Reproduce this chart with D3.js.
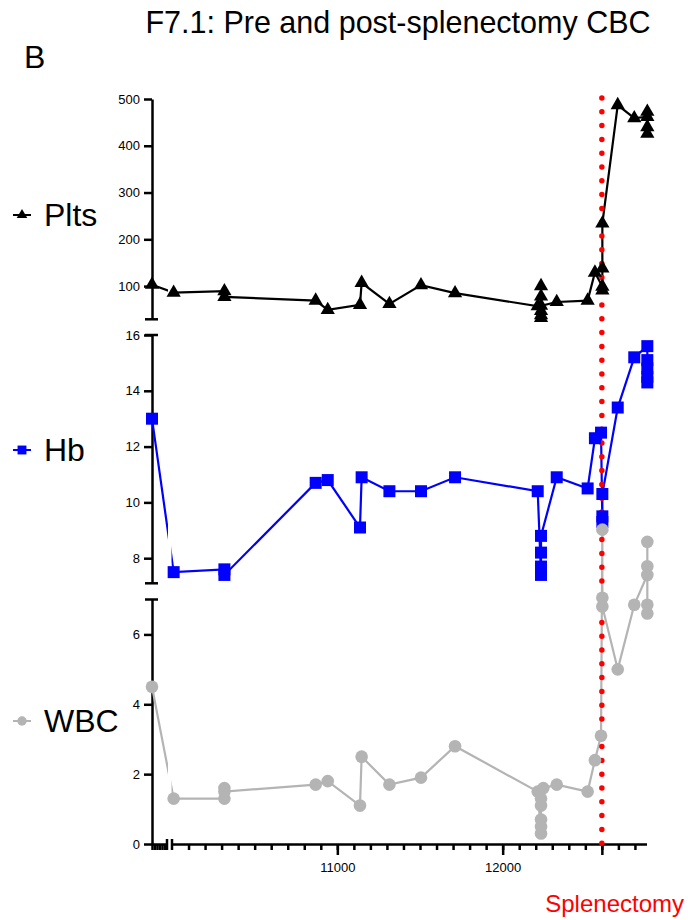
<!DOCTYPE html>
<html>
<head>
<meta charset="utf-8">
<script src="https://cdn.jsdelivr.net/npm/d3@7"></script>
<style>
body { margin: 0; background: #fff; }
text { font-family: "Liberation Sans", Arial, Helvetica, sans-serif; }
.axis path, .axis line { stroke: #000; stroke-width: 2.5; }
.axis text { font-size: 13px; fill: #000; }
</style>
</head>
<body>
<svg id="chart" width="688" height="920"></svg>
<script>
// day of sample and value, same day repeated when several samples were taken
var pltsDay = [0, 10010, 10317, 10317, 10869, 10942, 11137, 11147, 11315, 11506, 11712, 12212,
    12232, 12232, 12232, 12232, 12232, 12232, 12327, 12514, 12558, 12603, 12603, 12603, 12603,
    12696, 12796, 12875, 12875, 12875, 12875]
var pltsVal = [103, 86, 89, 77, 69, 49, 60, 107, 62, 102, 85, 57,
    32, 38, 47, 100, 78, 58, 66, 69, 129, 99, 91, 138, 234,
    487, 459, 462, 473, 440, 426]

var hbDay = [0, 10010, 10317, 10317, 10869, 10942, 11137, 11147, 11315, 11506, 11712, 12212,
    12232, 12232, 12232, 12232, 12327, 12514, 12558, 12595, 12603, 12603, 12603,
    12696, 12796, 12875, 12875, 12875, 12875, 12875]
var hbVal = [13.0, 7.5, 7.6, 7.4, 10.7, 10.8, 9.1, 10.9, 10.4, 10.4, 10.9, 10.4,
    7.4, 7.7, 8.2, 8.8, 10.9, 10.5, 12.3, 12.5, 9.3, 9.5, 10.3,
    13.4, 15.2, 15.6, 15.1, 14.8, 14.5, 14.3]

var wbcDay = [0, 10010, 10317, 10317, 10317, 10869, 10942, 11137, 11147, 11315, 11506, 11712, 12212,
    12232, 12232, 12232, 12232, 12232, 12246, 12327, 12514, 12558, 12595, 12603, 12603, 12603,
    12696, 12796, 12875, 12875, 12875, 12875, 12875]
var wbcVal = [4.5, 1.3, 1.3, 1.6, 1.5, 1.7, 1.8, 1.1, 2.5, 1.7, 1.9, 2.8, 1.5,
    0.3, 0.5, 0.7, 1.1, 1.3, 1.6, 1.7, 1.5, 2.4, 3.1, 9.0, 7.05, 6.8,
    5.0, 6.85, 7.7, 7.95, 8.65, 6.85, 6.6]

var splenectomyDay = 12600
var xEarlyTicks = [0, 100, 200, 300, 400, 500]
var xMinorTicks = d3.range(10100, 12900, 100)
var xMajorTicks = [11000, 12000]
var pltsTicks = [100, 200, 300, 400, 500]
var hbTicks = [8, 10, 12, 14, 16]
var wbcTicks = [0, 2, 4, 6]

var svg = d3.select('#chart')

// x axis has a break between the first sample and day 10000
var x = d3.scaleLinear().domain([0, 600, 10000, 12870]).range([152, 167, 172, 646.5])
var xa = d3.scaleLinear().domain([0, 600]).range([152, 167])
var xb = d3.scaleLinear().domain([10000, 12870]).range([172, 646.5])

var yP = d3.scaleLinear().domain([29, 500]).range([319.3, 99])
var yH = d3.scaleLinear().domain([7.1, 16]).range([583.3, 335])
var yW = d3.scaleLinear().domain([0, 7]).range([844, 599.5])
var xAxisY = 844

function pairs(days, vals) {
    return days.map(function(d, i) { return {day: d, v: vals[i]}; })
}

var series = [
    {name: 'Plts', data: pairs(pltsDay, pltsVal), y: yP, color: '#000', symbol: d3.symbolTriangle, size: 88, legendY: 215},
    {name: 'Hb', data: pairs(hbDay, hbVal), y: yH, color: '#0000ff', symbol: d3.symbolSquare, size: 144, legendY: 450},
    {name: 'WBC', data: pairs(wbcDay, wbcVal), y: yW, color: '#b4b4b4', symbol: d3.symbolCircle, size: 125, legendY: 721}
]

// title and panel letter
svg.append('text').attr('x', 398).attr('y', 33).attr('text-anchor', 'middle')
    .style('font-size', '30.5px').text('F7.1: Pre and post-splenectomy CBC')
svg.append('text').attr('x', 24).attr('y', 68).style('font-size', '32px').text('B')

// y axes
function yAxis(scale, ticks) {
    var g = svg.append('g').attr('class', 'axis').attr('transform', 'translate(152,0)')
        .call(d3.axisLeft(scale).tickValues(ticks).tickSize(8).tickSizeOuter(0).tickPadding(4)
            .tickFormat(d3.format('d')))
    return g
}
yAxis(yP, pltsTicks)
yAxis(yH, hbTicks)
yAxis(yW, wbcTicks)

// end caps on the axis pieces
var caps = [yP(29), yH(16), yH(7.1), yW(7)]
svg.selectAll('line.ycap')
    .data(caps)
    .enter()
        .append('line')
        .attr('class', 'ycap')
        .attr('x1', 145).attr('x2', 158)
        .attr('y1', function(d) { return d; })
        .attr('y2', function(d) { return d; })
        .attr('stroke', '#000').attr('stroke-width', 2.5)

// x axis in two pieces
svg.append('g').attr('class', 'axis').attr('transform', 'translate(0,' + xAxisY + ')')
    .call(d3.axisBottom(xa).tickValues(xEarlyTicks).tickSize(6).tickSizeOuter(0).tickFormat(''))
svg.append('g').attr('class', 'axis').attr('transform', 'translate(0,' + xAxisY + ')')
    .call(d3.axisBottom(xb).tickValues(xMinorTicks).tickSize(6).tickSizeOuter(0).tickFormat(''))
svg.append('g').attr('class', 'axis').attr('transform', 'translate(0,' + xAxisY + ')')
    .call(d3.axisBottom(xb).tickValues(xMajorTicks.concat([splenectomyDay])).tickSize(11).tickPadding(8)
        .tickFormat(function(d) { return d == splenectomyDay ? '' : d; }))
    .call(function(g) { g.select('.domain').remove(); })

svg.selectAll('line.xcap')
    .data([xa(600), xb(10000)])
    .enter()
        .append('line')
        .attr('class', 'xcap')
        .attr('x1', function(d) { return d; })
        .attr('x2', function(d) { return d; })
        .attr('y1', xAxisY - 5).attr('y2', xAxisY + 6)
        .attr('stroke', '#000').attr('stroke-width', 2.5)

// lines are cut where the axis breaks
var clip = svg.append('defs').append('clipPath').attr('id', 'gapclip')
clip.append('rect').attr('x', 0).attr('y', 0).attr('width', 168).attr('height', 920)
clip.append('rect').attr('x', 171.5).attr('y', 0).attr('width', 520).attr('height', 920)

series.forEach(function(s) {
    var line = d3.line()
        .x(function(d) { return x(d.day); })
        .y(function(d) { return s.y(d.v); })
    svg.append('path')
        .datum(s.data)
        .attr('clip-path', 'url(#gapclip)')
        .attr('d', line)
        .attr('fill', 'none')
        .attr('stroke', s.color)
        .attr('stroke-width', 2.2)
})

// splenectomy marker
svg.append('line')
    .attr('x1', x(splenectomyDay)).attr('x2', x(splenectomyDay))
    .attr('y1', 98).attr('y2', 844)
    .attr('stroke', '#ff0000')
    .attr('stroke-width', 5.5)
    .attr('stroke-linecap', 'round')
    .attr('stroke-dasharray', '0 13.8')
svg.append('text').attr('x', 684).attr('y', 912).attr('text-anchor', 'end')
    .attr('fill', '#ff0000').style('font-size', '24px').text('Splenectomy')

series.forEach(function(s) {
    svg.append('g').selectAll('path')
        .data(s.data)
        .enter()
            .append('path')
            .attr('transform', function(d) { return 'translate(' + x(d.day) + ',' + s.y(d.v) + ')'; })
            .attr('d', d3.symbol().type(s.symbol).size(s.size))
            .attr('fill', s.color)
})

// legend on the left
series.forEach(function(s) {
    var g = svg.append('g').attr('transform', 'translate(22,' + s.legendY + ')')
    g.append('line').attr('x1', -9).attr('x2', 9).attr('stroke', s.color).attr('stroke-width', 2)
    g.append('path').attr('d', d3.symbol().type(s.symbol).size(s.size * 0.55)).attr('fill', s.color)
    svg.append('text').attr('x', 44).attr('y', s.legendY + 11).style('font-size', '32px').text(s.name)
})
</script>
</body>
</html>
